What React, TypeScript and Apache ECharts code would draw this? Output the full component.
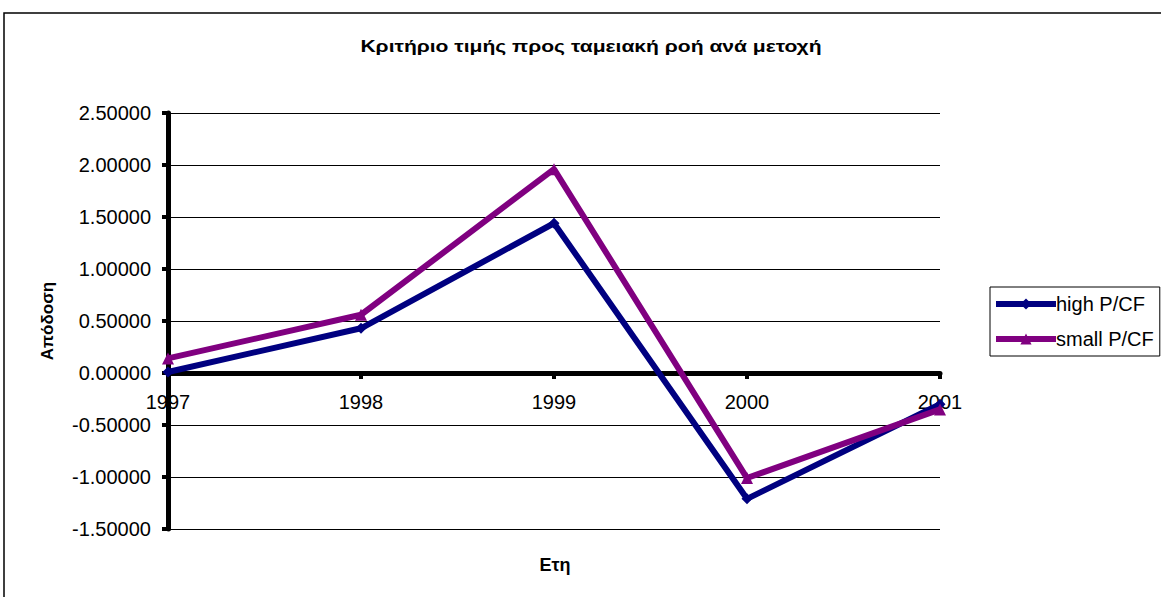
import React, { useEffect, useRef } from "react";
import * as echarts from "echarts";

const years = ["1997", "1998", "1999", "2000", "2001"];
const highPCF = [0.01, 0.43, 1.44, -1.21, -0.3];
const smallPCF = [0.14, 0.56, 1.96, -1.01, -0.35];
const seriesNames = ["high P/CF", "small P/CF"];
const titleText = "Κριτήριο τιμής προς ταμειακή ροή ανά μετοχή";
const yName = "Απόδοση";
const xName = "Ετη";

const FONT = 'Arial, "Liberation Sans", sans-serif';

export default function App() {
  const ref = useRef<HTMLDivElement>(null);
  useEffect(() => {
    if (!ref.current) return;
    const chart = echarts.init(ref.current, undefined, { renderer: "svg" });
    chart.setOption({
      animation: false,
      backgroundColor: "#fff",
      textStyle: { fontFamily: FONT },
      graphic: [
        {
          type: "rect",
          shape: { x: 4, y: 13, width: 1200, height: 700 },
          style: { fill: "none", stroke: "#000", lineWidth: 1.5 },
          silent: true,
          z: -1,
        },
        {
          type: "text",
          x: 591,
          y: 46,
          scaleX: 1.24,
          originX: 0,
          originY: 0,
          style: {
            text: titleText,
            font: `bold 17px ${FONT}`,
            fill: "#000",
            textAlign: "center",
            textVerticalAlign: "middle",
          },
        },
        {
          type: "text",
          x: 555,
          y: 565,
          style: {
            text: xName,
            font: `bold 18px ${FONT}`,
            fill: "#000",
            textAlign: "center",
            textVerticalAlign: "middle",
          },
        },
      ],
      grid: { left: 168, right: 221, top: 113, bottom: 68, containLabel: false },
      legend: {
        orient: "vertical",
        left: 990,
        top: 287,
        data: seriesNames,
        itemWidth: 60,
        itemHeight: 14,
        itemGap: 15,
        borderColor: "#000",
        borderWidth: 1,
        borderRadius: 0,
        padding: [7, 6, 7, 3],
        lineStyle: { width: 6 },
        textStyle: { fontSize: 20, color: "#000", fontFamily: FONT, padding: [0, 0, 0, -5] },
      },
      xAxis: {
        type: "category",
        data: years,
        boundaryGap: false,
        offset: -156,
        axisLine: { onZero: false, lineStyle: { color: "#000", width: 5 } },
        axisTick: { show: true, inside: false, length: 6, lineStyle: { color: "#000", width: 4 } },
        axisLabel: { fontSize: 20, color: "#000", margin: 19, fontFamily: FONT },
        splitLine: { show: false },
      },
      yAxis: {
        type: "value",
        min: -1.5,
        max: 2.5,
        interval: 0.5,
        name: yName,
        nameLocation: "middle",
        nameGap: 112,
        nameRotate: 90,
        nameTextStyle: { fontSize: 17, fontWeight: "bold", color: "#000", fontFamily: FONT },
        axisLine: { show: true, lineStyle: { color: "#000", width: 5 } },
        axisTick: { show: true, length: 6, lineStyle: { color: "#000", width: 4 } },
        axisLabel: {
          fontSize: 20,
          color: "#000",
          margin: 17,
          fontFamily: FONT,
          formatter: (v: number) => v.toFixed(5),
        },
        splitLine: { show: true, lineStyle: { color: "#000", width: 1 } },
      },
      series: [
        {
          name: seriesNames[0],
          type: "line",
          data: highPCF,
          color: "#000080",
          symbol: "diamond",
          symbolSize: 11,
          lineStyle: { width: 6, color: "#000080" },
          itemStyle: { color: "#000080" },
          z: 3,
        },
        {
          name: seriesNames[1],
          type: "line",
          data: smallPCF,
          color: "#800080",
          symbol: "triangle",
          symbolSize: 12,
          lineStyle: { width: 6, color: "#800080" },
          itemStyle: { color: "#800080" },
          z: 4,
        },
      ],
    });
    return () => chart.dispose();
  }, []);
  return (
    <div
      ref={ref}
      style={{ position: "fixed", left: 0, top: 0, width: 1161, height: 597 }}
    />
  );
}
